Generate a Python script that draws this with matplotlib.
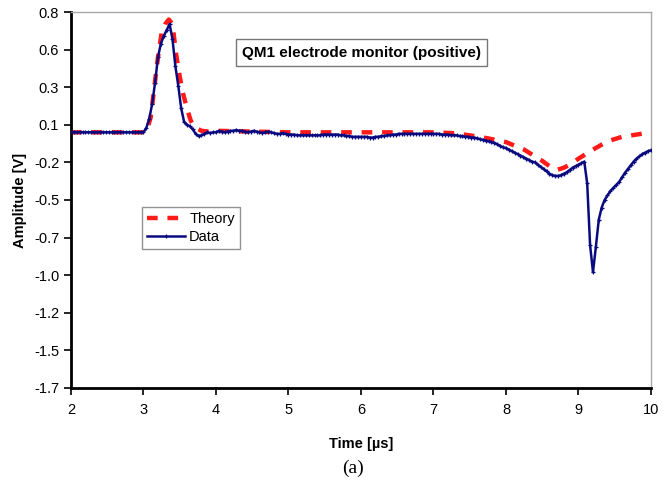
import matplotlib.pyplot as plt
import numpy as np

plt.rcParams['font.family'] = ['Liberation Sans', 'DejaVu Sans']

# measured signal, sampled every 0.04 us from 2 to 10 us
data_t = np.linspace(2.0, 10.0, 201)
data_v = [
    0.0, 0.0, 0.0, 0.0, 0.0, 0.0, 0.0, 0.0, 0.0, 0.0,
    0.0, 0.0, 0.0, 0.0, 0.0, 0.0, 0.0, 0.0, 0.0, 0.0,
    0.0, 0.0, 0.0, 0.0, 0.0, 0.0, 0.03, 0.09, 0.19, 0.33,
    0.50, 0.59, 0.64, 0.68, 0.72, 0.62, 0.44, 0.31, 0.16, 0.07,
    0.05, 0.04, 0.02, -0.01, -0.025, -0.02, -0.01, 0.0, -0.005, 0.0,
    0.0, 0.01, 0.005, 0.0, 0.005, 0.01, 0.01, 0.015, 0.01, 0.01,
    0.005, 0.0, 0.005, 0.01, 0.005, 0.0, -0.005, 0.0, 0.005, 0.0,
    -0.005, -0.01, -0.01, -0.005, -0.01, -0.015, -0.015, -0.015, -0.02, -0.02,
    -0.02, -0.02, -0.02, -0.02, -0.02, -0.02, -0.02, -0.015, -0.015, -0.015,
    -0.015, -0.015, -0.015, -0.02, -0.02, -0.025, -0.025, -0.03, -0.03, -0.03,
    -0.03, -0.03, -0.03, -0.035, -0.035, -0.03, -0.03, -0.025, -0.025, -0.02,
    -0.02, -0.015, -0.015, -0.01, -0.01, -0.01, -0.01, -0.01, -0.01, -0.01,
    -0.01, -0.01, -0.01, -0.01, -0.01, -0.01, -0.01, -0.01, -0.015, -0.015,
    -0.015, -0.02, -0.02, -0.02, -0.025, -0.025, -0.03, -0.03, -0.035, -0.035,
    -0.04, -0.045, -0.05, -0.055, -0.06, -0.065, -0.07, -0.08, -0.09, -0.10,
    -0.105, -0.115, -0.125, -0.135, -0.145, -0.155, -0.165, -0.175, -0.185, -0.195,
    -0.20, -0.215, -0.23, -0.245, -0.26, -0.275, -0.285, -0.29, -0.29, -0.285,
    -0.275, -0.265, -0.25, -0.235, -0.225, -0.215, -0.205, -0.195, -0.34, -0.75,
    -0.93, -0.76, -0.58, -0.50, -0.45, -0.42, -0.39, -0.37, -0.35, -0.33,
    -0.30, -0.27, -0.245, -0.22, -0.195, -0.175, -0.16, -0.145, -0.135, -0.125,
    -0.12,
]

# simulated response
theory_t = [2.0, 2.5, 3.0, 3.05, 3.1, 3.15, 3.2, 3.25, 3.3, 3.35, 3.4, 3.45,
            3.5, 3.55, 3.6, 3.65, 3.7, 3.8, 3.9, 4.0, 4.5, 5.0, 5.5, 6.0, 6.5,
            7.0, 7.25, 7.5, 7.75, 8.0, 8.25, 8.5, 8.6, 8.7, 8.8, 8.9, 9.0,
            9.2, 9.4, 9.6, 9.8, 10.0]
theory_v = [0.0, 0.0, 0.0, 0.02, 0.10, 0.30, 0.50, 0.66, 0.72, 0.75, 0.72, 0.52,
            0.37, 0.25, 0.16, 0.08, 0.035, 0.01, 0.005, 0.01, 0.005, 0.0, 0.0, 0.0, 0.0,
            0.0, -0.005, -0.02, -0.04, -0.065, -0.115, -0.19, -0.225, -0.25, -0.235, -0.21, -0.175,
            -0.115, -0.06, -0.03, -0.015, 0.0]

xticks = [2, 3, 4, 5, 6, 7, 8, 9, 10]
ytick_labels = ['-1.7', '-1.5', '-1.2', '-1.0', '-0.7', '-0.5', '-0.2', '0.1', '0.3', '0.6', '0.8']

fig = plt.figure(figsize=(6.67, 4.8), dpi=100)
ax = fig.add_axes([0.1064, 0.1917, 0.8696, 0.7833])

ax.plot(theory_t, theory_v, color='#ff1a1a', lw=3.2, linestyle=(0, (2.4, 2.2)),
        label='Theory', zorder=2)
ax.plot(data_t, data_v, color='#0a0a80', lw=1.8, marker='+', markersize=3,
        markeredgewidth=0.9, label='Data', zorder=3)

ax.set_xlim(2, 10)
ax.set_ylim(-1.7, 0.8)
ax.set_xticks(xticks)
ax.set_xticklabels([str(x) for x in xticks])
ax.set_yticks(np.linspace(-1.7, 0.8, 11))
ax.set_yticklabels(ytick_labels)
ax.tick_params(direction='out', length=5, width=1.2, labelsize=10.5, colors='black')
ax.tick_params(axis='x', pad=6)

for side in ['left', 'bottom']:
    ax.spines[side].set_linewidth(2)
    ax.spines[side].set_color('black')
for side in ['top', 'right']:
    ax.spines[side].set_linewidth(1)
    ax.spines[side].set_color('#a8a8a8')

ax.set_xlabel('Time [\u00b5s]', fontsize=10.5, fontweight='bold', labelpad=14)
ax.set_ylabel('Amplitude [V]', fontsize=10.5, fontweight='bold', labelpad=5)

ax.text(6.01, 0.53, 'QM1 electrode monitor (positive)', ha='center', va='center',
        fontsize=11, fontweight='bold',
        bbox=dict(boxstyle='square,pad=0.4', facecolor='white', edgecolor='#777777', lw=1))

leg = ax.legend(loc='upper left', bbox_to_anchor=(0.122, 0.481), fontsize=10.5,
                frameon=True, fancybox=False, handlelength=2.6, borderpad=0.35,
                labelspacing=0.25, handletextpad=0.3, borderaxespad=0)
leg.get_frame().set_edgecolor('#777777')
leg.get_frame().set_linewidth(1)

fig.text(0.529, 0.025, '(a)', ha='center', va='center', fontsize=14,
         family=['Liberation Serif', 'DejaVu Serif'])

fig.savefig('out.png', dpi=100)
